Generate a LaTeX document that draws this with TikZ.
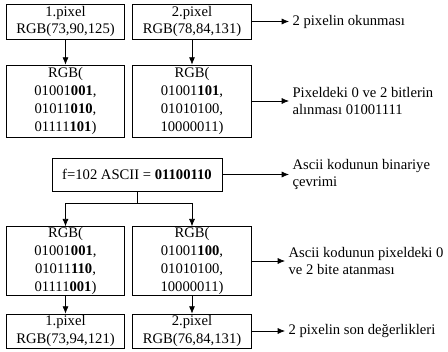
\documentclass[tikz,border=0pt]{standalone}
\usepackage{fontspec}
\setmainfont{Liberation Serif}
\usetikzlibrary{arrows.meta}
\begin{document}
\begin{tikzpicture}
	\tikzset{boite/.style={draw=black, line width=0.6pt, align=center, inner sep=0cm, minimum width=3.56cm, font=\rmfamily\fontsize{12.5}{15.3}\selectfont},
		etiquette/.style={anchor=west, align=left, inner sep=0.1cm, font=\rmfamily\fontsize{12.5}{14.8}\selectfont},
		fleche/.style={>={Latex[length=2.2mm,width=1.8mm]}, ->, line width=0.6pt}};

	\useasboundingbox (0,0) rectangle (13.44,-10.56);

	\node[boite, minimum height=1.05cm] (p1) at (1.965, -0.645) {1.pixel\\RGB(73,90,125)};
	\node[boite, minimum height=1.05cm] (p2) at ( 5.76, -0.645) {2.pixel\\RGB(78,84,131)};

	\node[boite, minimum height=2.16cm] (b1) at (1.965, -3.03) {RGB(\\01001\textbf{001},\\01011\textbf{010},\\01111\textbf{101})};
	\node[boite, minimum height=2.16cm] (b2) at ( 5.76, -3.03) {RGB(\\01001\textbf{101},\\01010100,\\10000011)};

	\node[boite, minimum width=5.1cm, minimum height=0.99cm] (asc) at (4.11, -5.235) {f=102 ASCII = \textbf{01100110}};
	\coordinate (fourche) at (4.11, -6.09);

	\node[boite, minimum height=2.06cm] (c1) at (1.965, -7.83) {RGB(\\01001\textbf{001},\\01011\textbf{110},\\01111\textbf{001})};
	\node[boite, minimum height=2.06cm] (c2) at ( 5.76, -7.83) {RGB(\\01001\textbf{100},\\01010100,\\10000011)};

	\node[boite, minimum height=1.02cm] (s1) at (1.965, -9.93) {1.pixel\\RGB(73,94,121)};
	\node[boite, minimum height=1.02cm] (s2) at ( 5.76, -9.93) {2.pixel\\RGB(76,84,131)};

	\node[etiquette] (l1) at (8.67, -0.645) {2 pixelin okunması};
	\node[etiquette] (l2) at (8.67, -3.03)  {Pixeldeki 0 ve 2 bitlerin\\alınması 01001111};
	\node[etiquette] (l3) at (8.67, -5.235) {Ascii kodunun binariye\\çevrimi};
	\node[etiquette] (l4) at (8.55, -7.83)  {Ascii kodunun pixeldeki 0\\ve 2 bite atanması};
	\node[etiquette] (l5) at (8.55, -9.93)  {2 pixelin son değerlikleri};

	\draw[fleche] (p1) -- (b1);
	\draw[fleche] (p2) -- (b2);
	\draw[line width=0.6pt] (asc) -- (fourche);
	\draw[fleche] (fourche) -| (c1);
	\draw[fleche] (fourche) -| (c2);
	\draw[fleche] (c1) -- (s1);
	\draw[fleche] (c2) -- (s2);

	\draw[fleche] (p2) -- (l1);
	\draw[fleche] (b2) -- (l2);
	\draw[fleche] (asc) -- (l3);
	\draw[fleche] (c2) -- (l4);
	\draw[fleche] (s2) -- (l5);

\end{tikzpicture}
\end{document}
